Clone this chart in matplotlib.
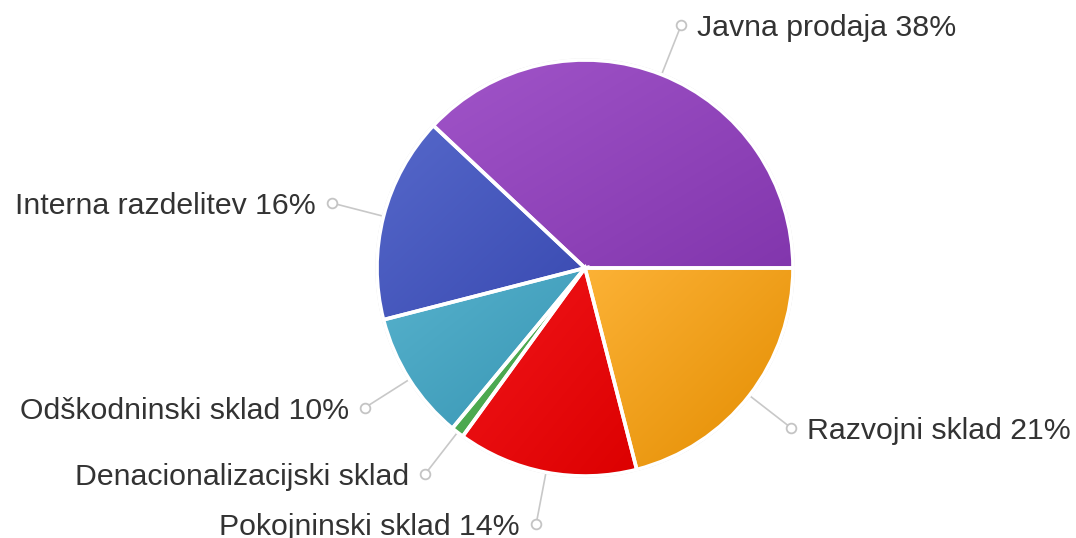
import numpy as np
import matplotlib
matplotlib.use('Agg')
import matplotlib.pyplot as plt
from matplotlib.colors import to_rgb
from matplotlib.patches import Circle

#------------------------------------------------------------
# data
#------------------------------------------------------------
labels = ['Javna prodaja', 'Interna razdelitev', 'Odškodninski sklad',
          'Denacionalizacijski sklad', 'Pokojninski sklad', 'Razvojni sklad']
shares = [38, 16, 10, 1, 14, 21]
show_pct = [True, True, True, False, True, True]

# light (top-left) / dark (bottom-right) colour of each slice
light_cols = ['#a155c9', '#5668ca', '#57b2cd', '#4fae53', '#f2161b', '#fcb236']
dark_cols = ['#8236ad', '#394ab1', '#3795b3', '#4aa64e', '#dc0000', '#e38c00']

#------------------------------------------------------------
# layout (pixels, y up)
#------------------------------------------------------------
W, H = 1076, 538
CX, CY = 585, 270
R = 208
R_DOT = 261
TEXT_GAP = 16
FS = 21.8
plt.rcParams['font.family'] = ['Liberation Sans', 'DejaVu Sans']

fig = plt.figure(figsize=(W / 100, H / 100), dpi=100)
ax = fig.add_axes([0, 0, 1, 1])

# faint rim under the pie
ax.add_patch(Circle((CX, CY), R + 0.5, facecolor='none', edgecolor='#d9d9d9',
                    linewidth=1.6, zorder=0))

wedges, _ = ax.pie(shares, startangle=0, counterclock=True, center=(CX, CY),
                   radius=R, wedgeprops=dict(facecolor='none', edgecolor='white',
                                             linewidth=2.6, zorder=3))

def gradFill(wedge, c_light, c_dark):
    verts = wedge.get_path().vertices
    x0, y0 = verts.min(axis=0)
    x1, y1 = verts.max(axis=0)
    u = np.linspace(0, 1, 120)
    uu, vv = np.meshgrid(u, u)
    t = 0.5 * uu + 0.5 * (1 - vv)
    a = np.array(to_rgb(c_light))
    b = np.array(to_rgb(c_dark))
    img = a[None, None, :] * (1 - t[..., None]) + b[None, None, :] * t[..., None]
    im = ax.imshow(img, extent=(x0, x1, y0, y1), origin='lower',
                   interpolation='bilinear', zorder=2)
    im.set_clip_path(wedge)

for w, cl, cd in zip(wedges, light_cols, dark_cols):
    gradFill(w, cl, cd)

# connector lines, dots and labels
total = float(sum(shares))
acc = 0.0
for lab, val, pct in zip(labels, shares, show_pct):
    mid = np.deg2rad((acc + val / 2) / total * 360)
    acc += val
    cs, sn = np.cos(mid), np.sin(mid)
    ax.plot([CX + (R + 1) * cs, CX + (R_DOT - 4) * cs],
            [CY + (R + 1) * sn, CY + (R_DOT - 4) * sn],
            color='#c8c8c8', linewidth=1.2, zorder=1, solid_capstyle='butt')
    dx, dy = CX + R_DOT * cs, CY + R_DOT * sn
    ax.plot(dx, dy, marker='o', markersize=7, markerfacecolor='white',
            markeredgecolor='#c4c4c4', markeredgewidth=1.3, zorder=4)
    txt = lab + (' %d%%' % val if pct else '')
    if cs >= 0:
        ax.text(dx + TEXT_GAP, dy - 10.7, txt, ha='left', va='baseline',
                fontsize=FS, color='#333333')
    else:
        ax.text(dx - TEXT_GAP, dy - 10.7, txt, ha='right', va='baseline',
                fontsize=FS, color='#333333')

ax.set_xlim(0, W)
ax.set_ylim(0, H)
ax.set_aspect('auto')
ax.axis('off')

fig.savefig('out.png', dpi=100, facecolor='white')
